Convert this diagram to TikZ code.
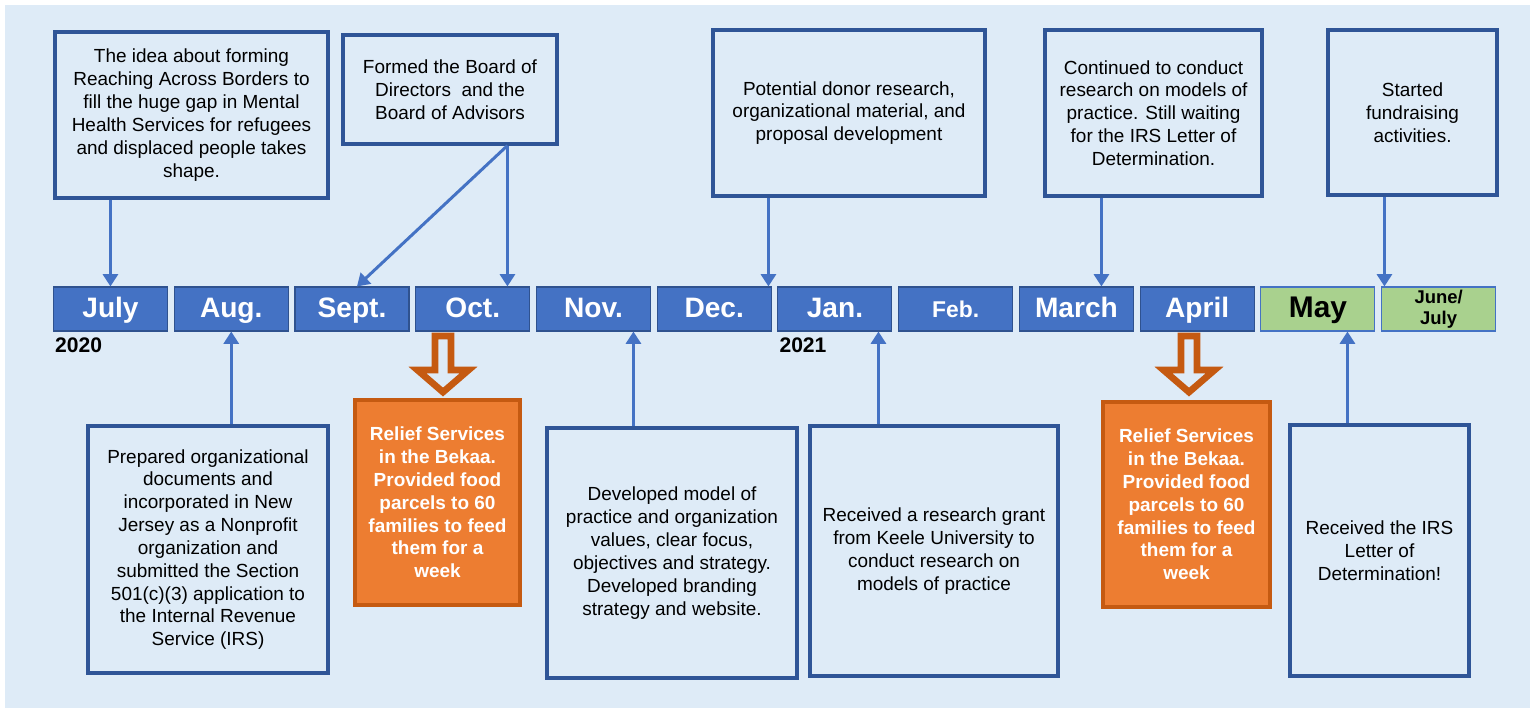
\documentclass[tikz,border=0pt]{standalone}
\usepackage{fontspec}
\setmainfont{Liberation Sans}
\usetikzlibrary{arrows.meta,positioning,calc}
\definecolor{bgBlue}{HTML}{DEEBF7}
\definecolor{monthBlue}{HTML}{4472C4}
\definecolor{monthEdge}{HTML}{2F528F}
\definecolor{boxEdge}{HTML}{2F5597}
\definecolor{mayGreen}{HTML}{A9D18E}
\definecolor{reliefOrange}{HTML}{ED7D31}
\definecolor{reliefEdge}{HTML}{C55A11}

\begin{document}
\begin{tikzpicture}[x=0.02cm, y=-0.02cm, >={Triangle[length=7pt,width=8.5pt]}, node distance=3.25pt]
        \tikzset{
           month/.style={
                        rectangle,
                        draw=monthEdge,
                        line width=0.6pt,
                        fill=monthBlue,
                        text=white,
                        font=\fontsize{16}{18}\selectfont\bfseries,
                        minimum width=2.28cm,
                        minimum height=0.88cm,
                        text height=12.5pt,
                        text depth=2.5pt,
                        inner sep=0pt
                       },
           greenMonth/.style={
                        month,
                        draw=monthBlue,
                        fill=mayGreen,
                        text=black
                       },
           note/.style={
                        rectangle,
                        draw=boxEdge,
                        line width=1.8pt,
                        fill=bgBlue,
                        text=black,
                        align=center,
                        font=\fontsize{10.8}{13}\selectfont,
                        inner sep=2pt
                       },
           relief/.style={
                        rectangle,
                        draw=reliefEdge,
                        line width=2.2pt,
                        fill=reliefOrange,
                        text=white,
                        align=center,
                        font=\fontsize{10.8}{13}\selectfont\bfseries,
                        minimum height=4.1cm
                       },
           year/.style={
                        anchor=north west,
                        inner sep=1pt,
                        font=\fontsize{12}{14}\selectfont\bfseries
                       },
           link/.style={
                        ->,
                        color=monthBlue,
                        line width=1.7pt
                       },
           hollow/.style={
                        draw=reliefEdge,
                        fill=bgBlue,
                        line width=3.8pt,
                        line join=miter
                       },
                 };
    %--------------------
        \fill[white]  (0,0) rectangle (1535,712);
        \fill[bgBlue] (5,5) rectangle (1530,708);
    %--------------------
        \node[month]      (july)  at (110.5,309)    {July};
        \node[month]      (aug)   [right=of july]  {Aug.};
        \node[month]      (sept)  [right=of aug]   {Sept.};
        \node[month]      (oct)   [right=of sept]  {Oct.};
        \node[month]      (nov)   [right=of oct]   {Nov.};
        \node[month]      (dec)   [right=of nov]   {Dec.};
        \node[month]      (jan)   [right=of dec]   {Jan.};
        \node[month, font=\fontsize{13}{15}\selectfont\bfseries]
                          (feb)   [right=of jan]   {Feb.};
        \node[month]      (march) [right=of feb]   {March};
        \node[month]      (april) [right=of march] {April};
        \node[greenMonth, font=\fontsize{17}{19}\selectfont\bfseries]
                          (may)   [right=of april] {May};
        \node[greenMonth, align=center, text height=, text depth=,
              font=\fontsize{10.5}{12}\selectfont\bfseries]
                          (june)  [right=of may]   {June/\\July};

        \node[year] (y2020) at ($(july.south west)+(0,4)$) {2020};
        \node[year] (y2021) at ($(jan.south west)+(0,4)$)  {2021};
    %--------------------
        \node[note, minimum width=5.46cm, minimum height=3.32cm] (idea) at (191.5,115)
             {The idea about forming\\Reaching Across Borders to\\fill the huge gap in Mental\\Health Services for refugees\\and displaced people takes\\shape.};
        \node[note, minimum width=4.28cm, minimum height=2.18cm] (board) at (450,89.5)
             {Formed the Board of\\Directors\ \ and the\\Board of Advisors};
        \node[note, minimum width=5.44cm, minimum height=3.32cm] (donor) at (849,113)
             {Potential donor research,\\organizational material, and\\proposal development};
        \node[note, minimum width=4.34cm, minimum height=3.32cm] (waiting) at (1153.5,113)
             {Continued to conduct\\research on models of\\practice. Still waiting\\for the IRS Letter of\\Determination.};
        \node[note, minimum width=3.38cm, minimum height=3.30cm] (fund) at (1412.5,112.5)
             {Started\\fundraising\\activities.};
    %--------------------
        \node[note, minimum width=4.80cm, minimum height=4.94cm] (incorp) at (208,549.5)
             {Prepared organizational\\documents and\\incorporated in New\\Jersey as a Nonprofit\\organization and\\submitted the Section\\501(c)(3) application to\\the Internal Revenue\\Service (IRS)};
        \node[relief, minimum width=3.30cm] (reliefA) at (437.5,502.5)
             {Relief Services\\in the Bekaa.\\Provided food\\parcels to 60\\families to feed\\them for a\\week};
        \node[note, minimum width=5.00cm, minimum height=5.00cm] (model) at (672,553)
             {Developed model of\\practice and organization\\values, clear focus,\\objectives and strategy.\\Developed branding\\strategy and website.};
        \node[note, minimum width=4.96cm, minimum height=5.00cm] (grant) at (934,551)
             {Received a research grant\\from Keele University to\\conduct research on\\models of practice};
        \node[relief, minimum width=3.34cm] (reliefB) at (1186.5,504.5)
             {Relief Services\\in the Bekaa.\\Provided food\\parcels to 60\\families to feed\\them for a\\week};
        \node[note, minimum width=3.58cm, minimum height=5.02cm] (letter) at (1379.5,550.5)
             {Received the IRS\\Letter of\\Determination!};
    %--------------------
        \coordinate (ideaFoot)    at ($(idea.south west)+(57,0)$);
        \coordinate (boardFoot)   at ($(board.south west)+(166,0)$);
        \coordinate (donorFoot)   at ($(donor.south west)+(57,0)$);
        \coordinate (waitingFoot) at ($(waiting.south west)+(58,0)$);
        \coordinate (fundFoot)    at ($(fund.south west)+(58,0)$);
        \coordinate (incorpHead)  at (incorp.north -| aug.south);
        \coordinate (modelHead)   at ($(model.north west)+(88,0)$);
        \coordinate (grantHead)   at ($(grant.north west)+(70,0)$);
        \coordinate (letterHead)  at ($(letter.north west)+(59,0)$);
        \coordinate (tipA)        at ($(reliefA.north)+(5.5,-6)$);
        \coordinate (tipB)        at ($(reliefB.north)+(2.5,-8)$);
    %--------------------
        \path[link] (ideaFoot)    edge (ideaFoot |- july.north)
                    (boardFoot)   edge ($(sept.north)+(5,0)$)
                    (boardFoot)   edge (boardFoot |- oct.north)
                    (donorFoot)   edge (donorFoot |- dec.north)
                    (waitingFoot) edge (waitingFoot |- march.north)
                    (fundFoot)    edge (fundFoot |- june.north)

                    (incorpHead)  edge (aug.south)
                    (modelHead)   edge (modelHead |- nov.south)
                    (grantHead)   edge (grantHead |- jan.south)
                    (letterHead)  edge (letterHead |- may.south);

        \draw[hollow] (tipA) -- ++(-25.5,-22) -- ++(17.5,0) -- ++(0,-34) -- ++(16,0)
                      -- ++(0,34) -- ++(17.5,0) -- cycle;
        \draw[hollow] (tipB) -- ++(-25.5,-22) -- ++(17.5,0) -- ++(0,-34) -- ++(16,0)
                      -- ++(0,34) -- ++(17.5,0) -- cycle;
    \end{tikzpicture}
\end{document}
